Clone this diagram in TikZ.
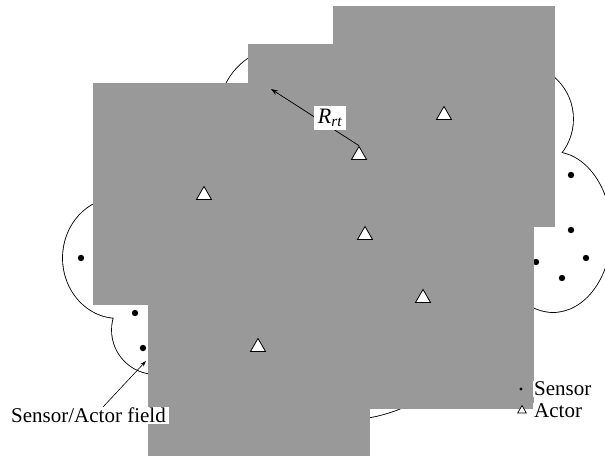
\documentclass[tikz,border=0pt]{standalone}
\usepackage{fontspec}
\setmainfont{Liberation Serif}
\usetikzlibrary{arrows.meta,shapes.geometric}
\definecolor{gr}{RGB}{153,153,153}
\tikzset{
  field/.style={fill=gr, draw=none},
  sensor/.style={circle, fill=black, inner sep=0pt, minimum size=6.4pt},
  actor/.style={regular polygon, regular polygon sides=3, draw=black, line width=0.8pt, fill=white, inner sep=0pt, minimum size=17.5pt},
  lbl/.style={fill=white, inner sep=1.5pt, font=\fontsize{21}{23}\selectfont},
  arr/.style={-{Stealth[length=7pt,width=5pt]}, line width=0.75pt},
}
\begin{document}
\begin{tikzpicture}[x=1pt,y=-1pt]
\useasboundingbox[fill=white] (0,0) rectangle (605,456);
% union outline of the sensor/actor field
\foreach \cx/\cy/\rx/\ry in {118/258/55/60, 156/330/44/44, 286/114/67/67, 518/119/55/55, 553/232/58/80, 340/258/162/162}
  \draw[line width=1.7pt] (\cx,\cy) ellipse [x radius=\rx, y radius=\ry];
\foreach \cx/\cy/\rx/\ry in {118/258/55/60, 156/330/44/44, 286/114/67/67, 518/119/55/55, 553/232/58/80, 340/258/162/162}
  \fill[white] (\cx,\cy) ellipse [x radius=\rx, y radius=\ry];
% sensors
\node[sensor] (s1) at (81,258) {};
\node[sensor] (s2) at (135,313) {};
\node[sensor] (s3) at (143,348) {};
\node[sensor] (s4) at (571,175) {};
\node[sensor] (s5) at (571,230) {};
\node[sensor] (s6) at (536,262) {};
\node[sensor] (s7) at (586,258) {};
\node[sensor] (s8) at (562,278) {};
% gray areas
\fill[field] (333,6) rectangle (555,227);
\fill[field] (248,44) rectangle (555,227);
\fill[field] (93,83) rectangle (534,305);
\fill[field] (148,227) rectangle (534,409);
\fill[field] (148,305) rectangle (370,456);
% actors
\node[actor] (a1) at (444,115.2) {};
\node[actor] (a2) at (359,155.2) {};
\node[actor] (a3) at (204,195.2) {};
\node[actor] (a4) at (365,235.2) {};
\node[actor] (a5) at (423,298.2) {};
\node[actor] (a6) at (258,347.2) {};
% radius arrow
\coordinate (rtip) at (271,89);
\draw[arr] (a2.corner 1) -- (rtip);
\node[lbl, inner xsep=4pt, inner ysep=3pt, font=\fontsize{22}{24}\selectfont] (rlab) at (330,118) {\itshape R\textsubscript{rt}};
% field label
\node[lbl, anchor=north west, inner xsep=3pt, inner ysep=1pt] (flab) at (8,407) {Sensor/Actor field};
\coordinate (ftip) at (146,361);
\draw[arr, line width=0.6pt, -{Stealth[length=6pt,width=4pt]}] (103,407) -- (ftip);
% legend
\node[circle, fill=black, inner sep=0pt, minimum size=3.2pt] (ls) at (521,389) {};
\node[regular polygon, regular polygon sides=3, draw=black, line width=0.7pt, fill=white, inner sep=0pt, minimum size=10pt] (la) at (522,410.5) {};
\node[lbl, anchor=west, inner sep=1pt] (lsens) at (533,389) {Sensor};
\node[lbl, anchor=west, inner sep=1pt] (lact) at (533,411) {Actor};
\end{tikzpicture}
\end{document}
